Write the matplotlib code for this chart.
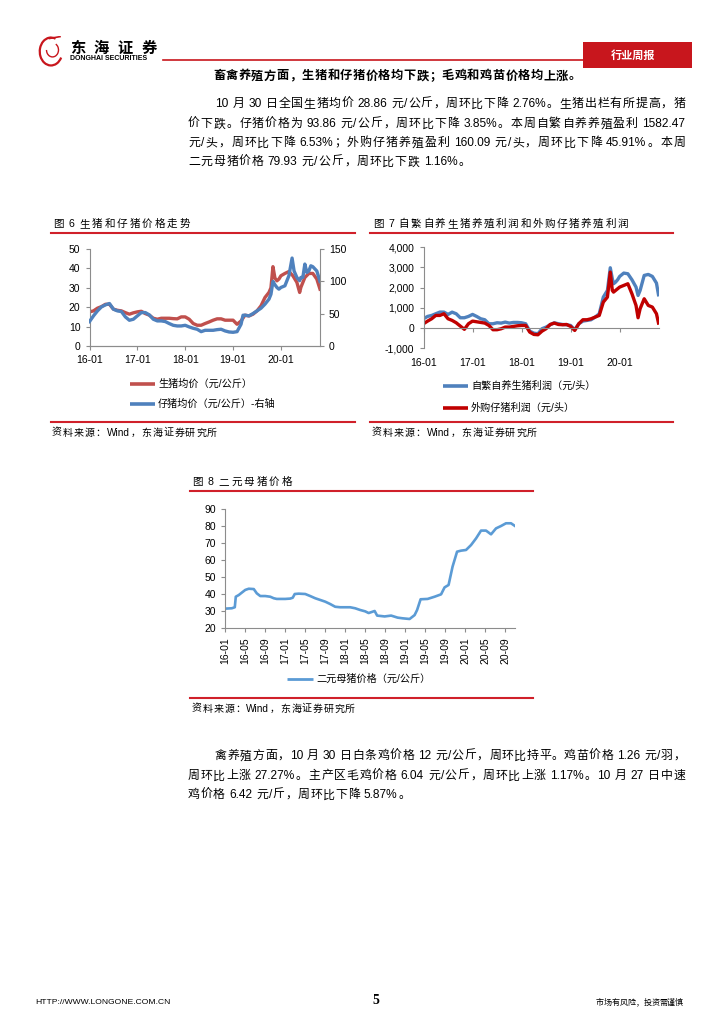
import matplotlib
matplotlib.use("Agg")
import matplotlib.pyplot as plt
from matplotlib.lines import Line2D
from matplotlib.patches import Rectangle, Arc
from matplotlib.ticker import FuncFormatter

W, H = 724, 1024
RULE = "#D0202A"
GRAY = "#8C8C8C"
CJK = "Noto Sans CJK SC"
LATIN = "Liberation Sans"

plt.rcParams["font.family"] = [LATIN, CJK]

# ---- data (x = months since 2016-01) ----
YEAR_TICKS = ["16-01", "17-01", "18-01", "19-01", "20-01"]

HOG_M = list(range(0, 46)) + [45.5, 46, 46.5, 47, 47.5, 48, 49, 50, 51, 52,
                              52.7, 53, 54, 55, 56, 57, 57.8]
HOG_PRICE = [17.6, 18.1, 19.5, 20.3, 21.5, 21.5, 19.0, 18.4, 18.1, 17.2,
             16.4, 17.1, 17.6, 17.9, 16.7, 15.9, 14.3, 13.8, 14.3, 14.3,
             14.3, 14.1, 14.0, 15.0, 15.0, 13.8, 11.6, 10.7, 10.7, 11.6,
             12.4, 13.3, 14.0, 14.0, 13.3, 13.3, 13.3, 11.2, 12.9, 15.9,
             15.5, 16.4, 18.1, 20.7, 25.0, 27.6,
             30.0, 40.9, 35.0, 33.6, 34.5, 36.2, 37.4, 38.4, 36.2, 32.8,
             27.6, 30.2, 35.3, 37.4, 37.4, 34.5, 29.3]

PIGLET_M = list(range(0, 39)) + [38.5, 39, 40, 41, 42, 43, 44, 45, 45.5, 46,
                                 46.5, 47, 47.5, 48, 49, 49.5, 50, 50.8, 51.3, 52,
                                 52.7, 53, 53.5, 54, 54.5, 55, 55.5, 56, 57, 57.8]
PIGLET_PRICE = [37.8, 46.6, 54.3, 60.5, 63.6, 65.7, 56.9, 54.3, 53.3, 45.0,
                39.8, 41.4, 46.6, 51.7, 51.7, 48.1, 41.4, 38.8, 38.8, 37.8,
                34.7, 32.0, 31.0, 31.0, 32.0, 29.5, 27.4, 25.9, 22.2, 24.3,
                24.3, 24.3, 25.3, 25.9, 23.3, 21.7, 21.2, 22.2, 33.6,
                47.6, 47.6, 46.6, 50.2, 54.3, 58.4, 64.7, 72.4, 80.0, 99.8,
                94.7, 90.5, 87.9, 90.5, 93.1, 100.9, 108.6, 136.0, 116.0, 106.0,
                101.0, 106.0, 106.0, 126.7, 113.8, 116.0, 124.0, 122.6, 116.0, 99.8]

SELF_M = list(range(0, 46)) + [45.7, 46.2, 46.5, 47, 47.5, 48, 49, 50, 51, 52,
                               52.5, 53, 54, 55, 56, 57, 57.5]
SELF_PROFIT = [462, 578, 627, 710, 792, 792, 677, 790, 710, 512,
               512, 578, 677, 578, 462, 413, 215, 215, 264, 248,
               297, 248, 280, 280, 264, 215, -150, -250, -280, -30,
               50, 165, 264, 215, 180, 165, 130, -80, 215, 346,
               380, 413, 545, 710, 1535, 1865,
               2987, 2440, 2195, 2277, 2393, 2558, 2723, 2690, 2393, 2030,
               1617, 1865, 2607, 2657, 2558, 2228, 1650]

BUY_M = list(range(0, 46)) + [45.7, 46.2, 46.5, 47, 48, 49, 50, 51, 52,
                              52.5, 53, 54, 55, 56, 57, 57.5]
BUY_PROFIT = [215, 346, 462, 627, 627, 710, 462, 380, 264, 100,
              -60, 215, 346, 313, 280, 248, 132, -80, -80, -33,
              50, 50, 83, 115, 132, 132, -200, -313, -330, -150,
              -30, 180, 248, 180, 165, 180, 83, -115, 215, 413,
              413, 462, 545, 627, 1287, 1535,
              2772, 1865, 1782, 1865, 2030, 2112, 2195, 1700, 1122,
              512, 957, 1452, 1122, 1040, 710, 250]

SOW_TICKS = ["16-01", "16-05", "16-09", "17-01", "17-05", "17-09", "18-01", "18-05",
             "18-09", "19-01", "19-05", "19-09", "20-01", "20-05", "20-09"]
SOW_M = [0, 1.3, 1.9, 2.1, 2.7, 3.3, 4, 4.7, 5.7, 6.3, 7, 8, 9, 9.7, 10.3, 12, 13,
         13.5, 13.9, 14.7, 16, 17, 18, 19, 20, 21, 22, 23, 24, 25, 26, 27, 28, 28.7,
         29.3, 29.9, 30.4, 31.9, 33.2, 34.5, 35.5, 36.9, 37.9, 38.4, 39.1, 40.5, 41.9,
         43.2, 43.9, 44.7, 45.5, 46.4, 47.2, 48.2, 49.2, 50.2, 51.2, 52.2, 53.2, 54.2,
         55.2, 56.2, 57.2, 58]
SOW_PRICE = [31.4, 31.6, 32.2, 38.4, 39.4, 40.8, 42.4, 43.1, 42.9, 40.4, 38.8, 38.8,
             38.4, 37.5, 37.1, 37.1, 37.3, 37.8, 40.0, 40.2, 40.0, 38.8, 37.5, 36.5,
             35.5, 34.1, 32.5, 32.2, 32.2, 32.2, 31.6, 30.6, 29.8, 28.8, 29.4, 30.0,
             27.3, 26.8, 27.3, 26.1, 25.7, 25.3, 27.6, 30.6, 36.9, 37.1, 38.4, 39.8,
             43.9, 45.3, 56.1, 64.9, 65.5, 65.9, 68.8, 72.7, 77.3, 77.3, 75.1, 78.6,
             80.0, 81.6, 81.6, 80.0]

fig = plt.figure(figsize=(W / 100, H / 100), dpi=100)
renderer = fig.canvas.get_renderer()


def fx(x):
    return x / W


def fy(y):
    return 1 - y / H


def hline(x0, x1, y, color=RULE, lw=1.5):
    fig.add_artist(Line2D([fx(x0), fx(x1)], [fy(y), fy(y)], color=color, lw=lw,
                          transform=fig.transFigure))


def split_tokens(s):
    # each CJK glyph is one token, ascii runs stay together; flag = space before
    toks, buf, gap, buf_gap = [], "", False, False
    for ch in s:
        if ch == " ":
            if buf:
                toks.append((buf, buf_gap))
                buf = ""
            gap = True
        elif ord(ch) < 128:
            if not buf:
                buf_gap, gap = gap, False
            buf += ch
        else:
            if buf:
                toks.append((buf, buf_gap))
                buf = ""
            toks.append((ch, gap))
            gap = False
    if buf:
        toks.append((buf, buf_gap))
    return toks


def spread(s, x0, y, x1=None, size=8.6, **kw):
    """Place text from x0 to x1 (pixels), spreading the slack between glyphs."""
    toks = split_tokens(s)
    objs, widths = [], []
    base = y + 0.36 * size * 100 / 72
    for t, _ in toks:
        fam = LATIN if ord(t[0]) < 128 else CJK
        o = fig.text(0, fy(base), t, fontsize=size, ha="left", va="baseline",
                     family=fam, **kw)
        widths.append(o.get_window_extent(renderer).width)
        objs.append(o)
    space = 0.28 * size * 100 / 72
    nsp = sum(1 for _, g in toks[1:] if g)
    gap = 0.0
    if x1 is not None and len(toks) > 1:
        gap = (x1 - x0 - sum(widths) - nsp * space) / (len(toks) - 1)
    x = x0
    for i, o in enumerate(objs):
        if i > 0:
            x += gap + (space if toks[i][1] else 0)
        o.set_x(fx(x))
        x += widths[i]


def label(x, y, s, size=7.3, **kw):
    fig.text(fx(x), fy(y), s, fontsize=size, ha="left", va="center", **kw)


def legend_line(x0, x1, y, color, lw):
    fig.add_artist(Line2D([fx(x0), fx(x1)], [fy(y), fy(y)], color=color, lw=lw,
                          solid_capstyle="butt", transform=fig.transFigure))


def style_axis(ax):
    for side in ("left", "right", "bottom", "top"):
        ax.spines[side].set_color(GRAY)
        ax.spines[side].set_linewidth(0.8)
    ax.tick_params(direction="out", length=3, width=0.8, color=GRAY,
                   labelsize=7.5, labelcolor="black")


# ---- header ----
logo = fig.add_axes([fx(36), fy(67), 30 / W, 31 / H])
logo.set_xlim(0, 1)
logo.set_ylim(0, 1)
logo.axis("off")
logo.add_patch(Arc((0.5, 0.5), 0.75, 0.9, theta1=70, theta2=330, color="#C8161D", lw=1.6))
logo.add_patch(Arc((0.55, 0.55), 0.4, 0.45, theta1=180, theta2=420, color="#C8161D", lw=1.0))
logo.plot([0.45, 0.8], [0.92, 0.98], color="#C8161D", lw=1.2)

spread("东海证券", 70, 47, 157, size=11, fontweight="heavy")
fig.text(fx(70), fy(59), "DONGHAI SECURITIES", fontsize=5.0, fontweight="bold",
         ha="left", va="center")
hline(163, 583, 60, color="#C8161D", lw=1.2)
fig.add_artist(Rectangle((fx(583), fy(68)), 109 / W, 26 / H, facecolor="#C8161D",
                         edgecolor="none", transform=fig.transFigure))
fig.text(fx(633), fy(55), "行业周报", fontsize=8, color="white", fontweight="bold",
         family=CJK, ha="center", va="center")

# ---- top text ----
spread("畜禽养殖方面，生猪和仔猪价格均下跌；毛鸡和鸡苗价格均上涨。", 213, 75, 581,
       size=8.8, fontweight="bold")
spread("10 月 30 日全国生猪均价 28.86 元/公斤，周环比下降 2.76%。生猪出栏有所提高，猪",
       215, 103, 685)
spread("价下跌。仔猪价格为 93.86 元/公斤，周环比下降 3.85%。本周自繁自养养殖盈利 1582.47",
       188, 123, 685)
spread("元/头，周环比下降 6.53%；外购仔猪养殖盈利 160.09 元/头，周环比下降 45.91%。本周",
       188, 142, 685)
spread("二元母猪价格 79.93 元/公斤，周环比下跌 1.16%。", 188, 161, 470)

# ---- figure 6 ----
spread("图 6 生猪和仔猪价格走势", 53, 223, 190, size=7.6)
hline(51, 355, 233)
ax6 = fig.add_axes([fx(89.5), fy(346), (320 - 89.5) / W, (346 - 249) / H])
ax6.plot(HOG_M, HOG_PRICE, color="#C0504D", lw=2.4)
ax6.set_ylim(0, 50)
ax6.set_yticks(range(0, 51, 10))
ax6.set_xlim(0, 57.8)
ax6.set_xticks([12 * i for i in range(len(YEAR_TICKS))])
ax6.set_xticklabels(YEAR_TICKS)
ax6r = ax6.twinx()
ax6r.plot(PIGLET_M, PIGLET_PRICE, color="#4F81BD", lw=2.4)
ax6r.set_ylim(0, 150)
ax6r.set_yticks([0, 50, 100, 150])
for a in (ax6, ax6r):
    style_axis(a)
    a.spines["top"].set_visible(False)
ax6.spines["right"].set_visible(False)
ax6r.spines["left"].set_visible(False)
legend_line(130, 155, 384, "#C0504D", 2.6)
label(158, 384, "生猪均价（元/公斤）")
legend_line(130, 155, 404, "#4F81BD", 2.6)
label(158, 404, "仔猪均价（元/公斤）-右轴")
hline(51, 355, 422)
spread("资料来源：Wind，东海证券研究所", 52, 432, 217, size=7.2)

# ---- figure 7 ----
spread("图 7 自繁自养生猪养殖利润和外购仔猪养殖利润", 373, 223, 628, size=7.6)
hline(370, 673, 233)
ax7 = fig.add_axes([fx(423.5), fy(348.3), (658.5 - 423.5) / W, (348.3 - 247.3) / H])
ax7.plot(SELF_M, SELF_PROFIT, color="#4F81BD", lw=2.4)
ax7.plot(BUY_M, BUY_PROFIT, color="#C00000", lw=2.4)
ax7.set_ylim(-1000, 4000)
ax7.set_yticks(range(-1000, 4001, 1000))
ax7.yaxis.set_major_formatter(FuncFormatter(lambda v, p: f"{v:,.0f}"))
ax7.set_xlim(0, 57.5)
ax7.set_xticks([12 * i for i in range(len(YEAR_TICKS))])
ax7.set_xticklabels([""] * len(YEAR_TICKS))
style_axis(ax7)
for side in ("top", "right"):
    ax7.spines[side].set_visible(False)
ax7.spines["bottom"].set_position(("data", 0))
for i, t in enumerate(YEAR_TICKS):
    ax7.text(12 * i, -0.15, t, transform=ax7.get_xaxis_transform(), fontsize=7.5,
             ha="center", va="center")
legend_line(443, 468, 386, "#4F81BD", 2.6)
label(471, 386, "自繁自养生猪利润（元/头）")
legend_line(443, 468, 408, "#C00000", 2.6)
label(471, 408, "外购仔猪利润（元/头）")
hline(370, 673, 422)
spread("资料来源：Wind，东海证券研究所", 372, 432, 537, size=7.2)

# ---- figure 8 ----
spread("图 8 二元母猪价格", 192, 481, 292, size=7.6)
hline(190, 533, 491)
ax8 = fig.add_axes([fx(225.3), fy(628), (515 - 225.3) / W, (628 - 509) / H])
ax8.plot(SOW_M, SOW_PRICE, color="#5B9BD5", lw=1.9)
ax8.set_ylim(20, 90)
ax8.set_yticks(range(20, 91, 10))
ax8.set_xlim(0, 58)
ax8.set_xticks([4 * i for i in range(len(SOW_TICKS))])
ax8.set_xticklabels(SOW_TICKS, rotation=90)
style_axis(ax8)
for side in ("top", "right"):
    ax8.spines[side].set_visible(False)
legend_line(287, 313, 679, "#5B9BD5", 2.0)
label(316, 679, "二元母猪价格（元/公斤）")
hline(190, 533, 698)
spread("资料来源：Wind，东海证券研究所", 192, 708, 355, size=7.2)

# ---- bottom text ----
spread("禽养殖方面，10 月 30 日白条鸡价格 12 元/公斤，周环比持平。鸡苗价格 1.26 元/羽，",
       215, 755, 685)
spread("周环比上涨 27.27%。主产区毛鸡价格 6.04 元/公斤，周环比上涨 1.17%。10 月 27 日中速",
       188, 775, 685)
spread("鸡价格 6.42 元/斤，周环比下降 5.87%。", 188, 794, 410)

# ---- footer ----
fig.text(fx(35), fy(1002), "HTTP://WWW.LONGONE.COM.CN", fontsize=6.1, ha="left", va="center")
fig.text(fx(376), fy(1001), "5", fontsize=10, fontweight="bold", family="Liberation Serif",
         ha="center", va="center")
spread("市场有风险，投资需谨慎", 596, 1002, 683, size=5.8)

fig.savefig("out.png", dpi=100)
